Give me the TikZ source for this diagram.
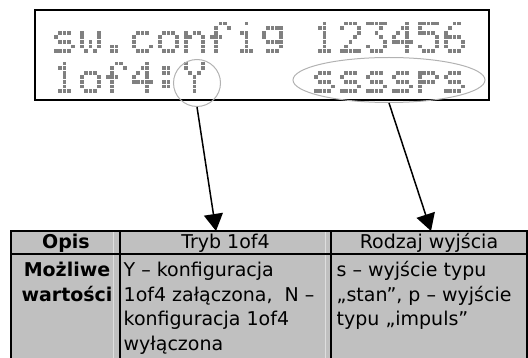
\documentclass[tikz,border=0pt]{standalone}
\usepackage{fontspec}
\setmainfont{DejaVu Sans}
\usetikzlibrary{arrows.meta,shapes.geometric}

\definecolor{cellgray}{RGB}{192,192,192}
\definecolor{cellhi}{RGB}{222,222,222}
\definecolor{dotgray}{RGB}{128,128,128}
\definecolor{ringgray}{RGB}{178,178,178}

% ---- 5x7 dot-matrix glyphs for the LCD ----
\def\lcddot#1#2#3{\ifnum#3=1 \fill[lcddot] ({\lcdx+#1*4.33},{\lcdy+#2*4.6}) rectangle ++(3.7,3.9);\fi}
\def\lcdrow#1#2#3#4#5#6{\lcddot0{#1}#2\lcddot1{#1}#3\lcddot2{#1}#4\lcddot3{#1}#5\lcddot4{#1}#6}
\def\lcdglyph#1#2#3#4#5#6#7{\lcdrow0#1\lcdrow1#2\lcdrow2#3\lcdrow3#4\lcdrow4#5\lcdrow5#6\lcdrow6#7}
\def\defglyph#1#2{\expandafter\def\csname lcdg@#1\endcsname{\lcdglyph#2}}
\defglyph{s}{{00000}{00000}{01110}{10000}{01110}{00001}{11110}}
\defglyph{w}{{00000}{00000}{10001}{10001}{10101}{10101}{01010}}
\defglyph{.}{{00000}{00000}{00000}{00000}{00000}{01100}{01100}}
\defglyph{c}{{00000}{00000}{01110}{10000}{10000}{10001}{01110}}
\defglyph{o}{{00000}{00000}{01110}{10001}{10001}{10001}{01110}}
\defglyph{n}{{00000}{00000}{10110}{11001}{10001}{10001}{10001}}
\defglyph{f}{{00110}{01001}{01000}{11100}{01000}{01000}{01000}}
\defglyph{i}{{00100}{00000}{01100}{00100}{00100}{00100}{01110}}
\defglyph{g}{{00000}{01111}{10001}{10001}{01111}{00001}{01110}}
\defglyph{1}{{00100}{01100}{00100}{00100}{00100}{00100}{01110}}
\defglyph{2}{{01110}{10001}{00001}{00010}{00100}{01000}{11111}}
\defglyph{3}{{11111}{00010}{00100}{00010}{00001}{10001}{01110}}
\defglyph{4}{{00010}{00110}{01010}{10010}{11111}{00010}{00010}}
\defglyph{5}{{11111}{10000}{11110}{00001}{00001}{10001}{01110}}
\defglyph{6}{{00110}{01000}{10000}{11110}{10001}{10001}{01110}}
\defglyph{:}{{00000}{01100}{01100}{00000}{01100}{01100}{00000}}
\defglyph{Y}{{10001}{10001}{01010}{00100}{00100}{00100}{00100}}
\defglyph{p}{{00000}{00000}{11110}{10001}{11110}{10000}{10000}}
% character cell #1 (column), top edge #2, glyph #3
\newcommand\lcdput[3]{\def\lcdx{(54+26*#1)}\def\lcdy{#2}\csname lcdg@#3\endcsname}

\tikzset{
  lcddot/.style={fill=dotgray},
  grid/.style={line width=1.5pt, black},
  hiline/.style={line width=0.8pt, cellhi},
  ring/.style={draw=ringgray, line width=1pt, inner sep=0pt},
  pointer/.style={line width=1.5pt, -{Triangle[length=17pt,width=19pt]}},
  txt/.style={font=\fontsize{19}{23}\selectfont, inner sep=0pt, anchor=base west},
  ctxt/.style={txt, anchor=base},
  btxt/.style={ctxt, font=\fontsize{19}{23}\selectfont\bfseries},
}

\begin{document}
\begin{tikzpicture}[x=1pt,y=-1pt]
\useasboundingbox (0,0) rectangle (528,358);
\clip (0,0) rectangle (528,358);

% LCD frame and its two lines of text
\draw[line width=1.8pt] (35,10) rectangle (489,100);
\foreach \ch [count=\ci from 0] in {s,w,.,c,o,n,f,i,g,{},1,2,3,4,5,6}
  {\lcdput{\ci}{21.6}{\ch}}
\foreach \ch [count=\ci from 0] in {1,o,f,4,:,Y,{},{},{},{},s,s,s,s,p,s}
  {\lcdput{\ci}{61.6}{\ch}}

% marks round the fields
\node[ring, circle, minimum size=47pt] (ymark) at (197,83) {};
\node[ring, ellipse, minimum width=192pt, minimum height=45pt] (smark) at (389,80) {};

% table
\fill[cellgray] (11,231) rectangle (527,362);
\draw[hiline] (113,231) -- (113,362) (325.5,231) -- (325.5,362);
\draw[grid] (11,362) -- (11,231) -- (527,231) -- (527,362);
\draw[grid] (11,254) -- (527,254);
\draw[grid] (120,231) -- (120,362) (331,231) -- (331,362);

\coordinate (tip1) at (216,231);
\coordinate (tip2) at (431,231);
\draw[pointer] (ymark.south) -- (tip1);
\draw[pointer] (smark.south) -- (tip2);

\node[btxt] (opis) at (66,249) {Opis};
\node[ctxt] (tryb) at (225.5,249) {Tryb 1of4};
\node[ctxt] (rodzaj) at (429,249) {Rodzaj wyjścia};

\node[btxt] (mozl) at (67,277) {Możliwe};
\node[btxt] (wart) at (67,301.5) {wartości};

\node[txt] (y1) at (123.5,277) {Y – konfiguracja};
\node[txt] (y2) at (123.5,301.5) {1of4 załączona,\ \ N –};
\node[txt] (y3) at (123.5,326) {konfiguracja 1of4};
\node[txt] (y4) at (123.5,350.5) {wyłączona};

\node[txt] (s1) at (336.5,277) {s – wyjście typu};
\node[txt] (s2) at (336.5,301.5) {„stan”, p – wyjście};
\node[txt] (s3) at (336.5,326) {typu „impuls”};
\end{tikzpicture}
\end{document}
